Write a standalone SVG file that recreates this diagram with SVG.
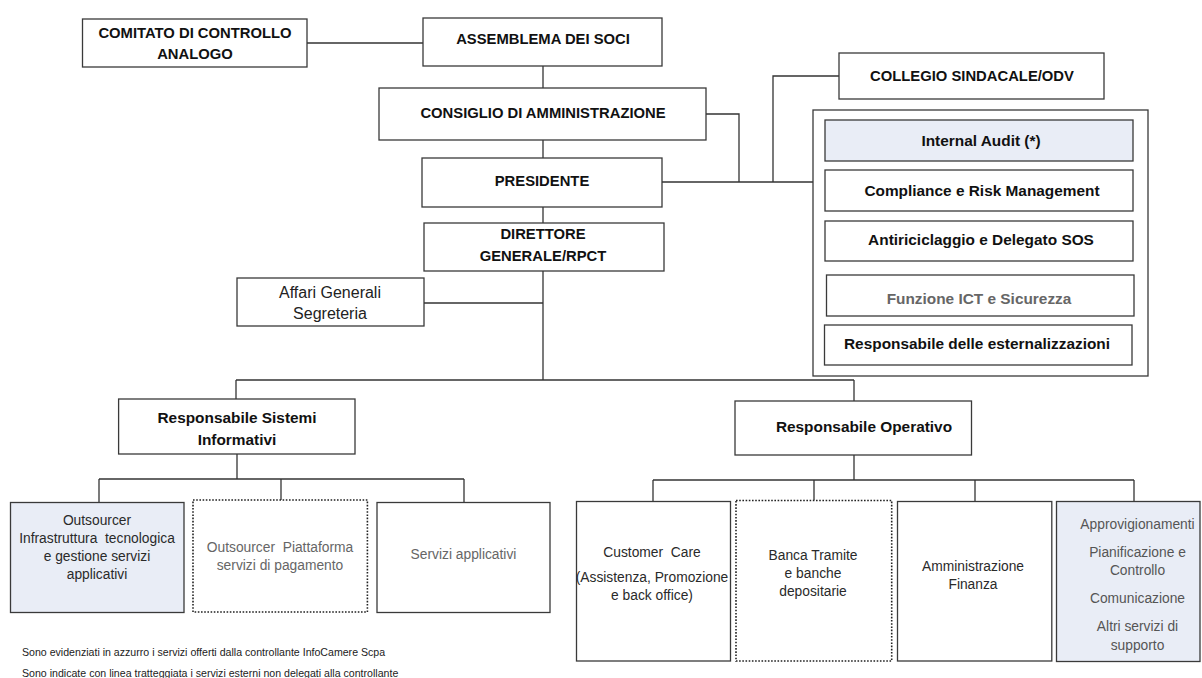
<svg xmlns="http://www.w3.org/2000/svg" width="1202" height="678" viewBox="0 0 1202 678">
<style>
.box{fill:#fff;stroke:#3a3a3a;stroke-width:1.3}
.blue{fill:#e9edf6}
.dot{stroke:#222;stroke-width:1.6;stroke-dasharray:1.6 1.6}
.t{font-family:"Liberation Sans",Arial,sans-serif;text-anchor:middle}
.b{font-weight:bold;fill:#111}
.caps{font-size:14.8px}
.mb{font-size:15.4px}
.r{font-size:13.8px;fill:#2a2a2a}
.g{fill:#666}
.g2{fill:#555}
.fn{font-family:"Liberation Sans",Arial,sans-serif;font-size:10.6px;fill:#222}
.c line,.c polyline{stroke:#333;stroke-width:1.3;fill:none}
</style>
<rect width="1202" height="678" fill="#fff"/>
<g class="c" id="connectors">
<line x1="307" y1="43" x2="423" y2="43"/>
<line x1="543" y1="66" x2="543" y2="88"/>
<polyline points="706,114 739,114 739,182"/>
<line x1="543" y1="140" x2="543" y2="158"/>
<line x1="662" y1="182" x2="813" y2="182"/>
<polyline points="773,182 773,76 839,76"/>
<line x1="543" y1="207" x2="543" y2="223"/>
<line x1="543" y1="271" x2="543" y2="380"/>
<line x1="424" y1="303" x2="543" y2="303"/>
<line x1="236" y1="380" x2="854" y2="380"/>
<line x1="236" y1="380" x2="236" y2="399"/>
<line x1="854" y1="380" x2="854" y2="401"/>
<line x1="237" y1="454" x2="237" y2="479"/>
<line x1="99" y1="479" x2="464" y2="479"/>
<line x1="99" y1="479" x2="99" y2="502.5"/>
<line x1="281" y1="479" x2="281" y2="500"/>
<line x1="464" y1="479" x2="464" y2="502.5"/>
<line x1="854" y1="455" x2="854" y2="480"/>
<line x1="653" y1="480" x2="1134" y2="480"/>
<line x1="653" y1="480" x2="653" y2="501.5"/>
<line x1="814" y1="480" x2="814" y2="500.5"/>
<line x1="975" y1="480" x2="975" y2="501.5"/>
<line x1="1134" y1="480" x2="1134" y2="501.5"/>
</g>
<g id="comitato"><rect class="box" x="82.5" y="19" width="224.5" height="48"/>
<text class="t b caps" x="195" y="37.5">COMITATO DI CONTROLLO</text><text class="t b caps" x="195" y="58.5">ANALOGO</text></g>
<g id="assemblea"><rect class="box" x="423" y="18" width="239" height="48"/>
<text class="t b caps" x="543" y="43.5">ASSEMBLEMA DEI SOCI</text></g>
<g id="consiglio"><rect class="box" x="379" y="88" width="327" height="52"/>
<text class="t b caps" x="543" y="117.5">CONSIGLIO DI AMMINISTRAZIONE</text></g>
<g id="presidente"><rect class="box" x="422" y="158" width="240" height="49"/>
<text class="t b caps" x="542" y="185.5">PRESIDENTE</text></g>
<g id="direttore"><rect class="box" x="424" y="223" width="240" height="48"/>
<text class="t b caps" x="543" y="238.5">DIRETTORE</text><text class="t b caps" x="543" y="260.5">GENERALE/RPCT</text></g>
<g id="affari"><rect class="box" x="237" y="278" width="187" height="48"/>
<text class="t" style="font-size:16px;fill:#222" x="330" y="298">Affari Generali</text><text class="t" style="font-size:16px;fill:#222" x="330" y="319">Segreteria</text></g>
<g id="collegio"><rect class="box" x="839" y="53" width="265" height="46"/>
<text class="t b caps" x="972" y="80.5">COLLEGIO SINDACALE/ODV</text></g>
<g id="controlli"><rect class="box" x="813" y="110" width="335" height="266"/></g>
<g id="internal-audit"><rect class="box blue" x="825" y="120" width="308" height="41"/>
<text class="t b mb" x="981" y="146">Internal Audit (*)</text></g>
<g id="compliance"><rect class="box" x="825" y="170" width="308" height="41"/>
<text class="t b mb" x="982" y="195.5">Compliance e Risk Management</text></g>
<g id="antiriciclaggio"><rect class="box" x="825" y="221" width="308" height="40"/>
<text class="t b mb" x="981" y="244.5">Antiriciclaggio e Delegato SOS</text></g>
<g id="funzione-ict"><rect class="box" x="826.5" y="275" width="307.5" height="41"/>
<text class="t b mb" style="fill:#666" x="979" y="304">Funzione ICT e Sicurezza</text></g>
<g id="esternalizzazioni"><rect class="box" x="824.5" y="325" width="307.5" height="40"/>
<text class="t b mb" x="977" y="348.5">Responsabile delle esternalizzazioni</text></g>
<g id="resp-sistemi"><rect class="box" x="118.6" y="399" width="236.4" height="55"/>
<text class="t b mb" x="237" y="422.5">Responsabile Sistemi</text><text class="t b mb" x="237" y="444.5">Informativi</text></g>
<g id="resp-operativo"><rect class="box" x="735" y="401" width="236.5" height="54"/>
<text class="t b mb" x="864" y="432">Responsabile Operativo</text></g>
<g id="outsourcer-infra"><rect class="box blue" x="10.5" y="502.5" width="173.5" height="110"/>
<text class="t r" x="97" y="525">Outsourcer</text><text class="t r" x="97" y="543" xml:space="preserve">Infrastruttura  tecnologica</text><text class="t r" x="97" y="561">e gestione servizi</text><text class="t r" x="97" y="579">applicativi</text></g>
<g id="outsourcer-piattaforma"><rect class="box dot" x="193" y="500" width="174.4" height="112"/>
<text class="t r g" x="280" y="552" xml:space="preserve">Outsourcer  Piattaforma</text><text class="t r g" x="280" y="570">servizi di pagamento</text></g>
<g id="servizi-applicativi"><rect class="box" x="377" y="502.5" width="173" height="110"/>
<text class="t r g" x="463.5" y="559">Servizi applicativi</text></g>
<g id="customer-care"><rect class="box" x="576.5" y="501.5" width="154" height="159.5"/>
<text class="t r" x="652" y="557" xml:space="preserve">Customer  Care</text><text class="t r" x="652" y="582">(Assistenza, Promozione</text><text class="t r" x="652" y="600">e back office)</text></g>
<g id="banca"><rect class="box dot" x="736" y="500.5" width="155.7" height="160.5"/>
<text class="t r" x="813" y="560">Banca Tramite</text><text class="t r" x="813" y="578">e banche</text><text class="t r" x="813" y="596">depositarie</text></g>
<g id="amministrazione"><rect class="box" x="897.5" y="501.5" width="154.3" height="159.5"/>
<text class="t r" x="973" y="571">Amministrazione</text><text class="t r" x="973" y="589">Finanza</text></g>
<g id="supporto"><rect class="box blue" x="1056.5" y="501.5" width="143.5" height="160"/>
<text class="t r g2" x="1137.5" y="529">Approvigionamenti</text><text class="t r g2" x="1137.5" y="557">Pianificazione e</text><text class="t r g2" x="1137.5" y="575">Controllo</text><text class="t r g2" x="1137.5" y="603">Comunicazione</text><text class="t r g2" x="1137.5" y="631">Altri servizi di</text><text class="t r g2" x="1137.5" y="650">supporto</text></g>
<g id="note">
<text class="fn" x="22" y="656">Sono evidenziati in azzurro i servizi offerti dalla controllante InfoCamere Scpa</text>
<text class="fn" x="22" y="676.5">Sono indicate con linea tratteggiata i servizi esterni non delegati alla controllante</text>
</g>
</svg>
